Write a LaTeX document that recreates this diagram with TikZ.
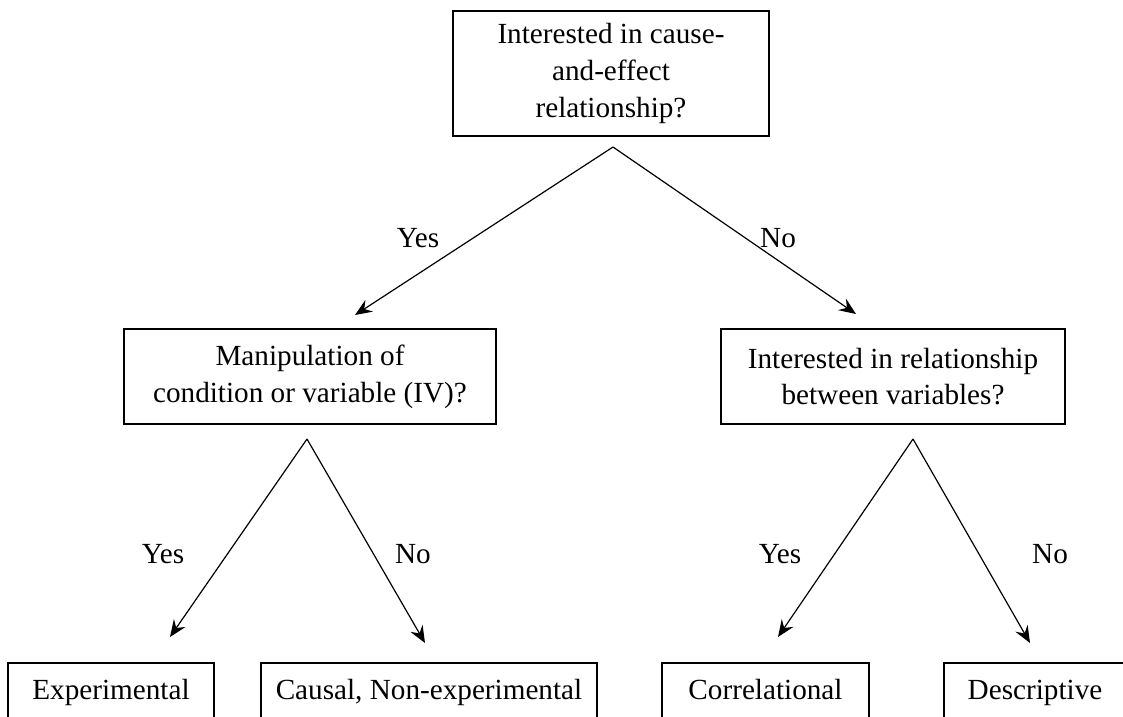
\documentclass[tikz,border=0pt]{standalone}
\usepackage{fontspec}
\setmainfont{Liberation Serif}
\usetikzlibrary{arrows.meta}
\begin{document}
\begin{tikzpicture}[x=1pt,y=-1pt,
  txt/.style={font=\fontsize{29.2}{36.7}\selectfont},
  box/.style={txt, draw, line width=1.2pt, align=center, inner sep=0pt},
  endbox/.style={box, minimum height=58, text height=20pt, text depth=6pt},
  lbl/.style={txt, inner sep=0pt, text height=20pt, text depth=6pt},
  arr/.style={line width=1.2pt, -{Stealth[length=17pt,width=14pt,inset=6pt]}}
]
\useasboundingbox (0,0) rectangle (1123,716);

% decision boxes
\node[box, minimum width=316, minimum height=125] (cause) at (611,73.5)
  {Interested in cause-\\and-effect\\relationship?};
\node[box, minimum width=372, minimum height=95] (manip) at (310,376.5)
  {Manipulation of\\condition or variable (IV)?};
\node[box, minimum width=344, minimum height=95] (rel) at (893,376.5)
  {Interested in relationship\\between variables?};

% outcome boxes (cut by the lower edge of the page)
\node[endbox, minimum width=206] (exp) at (111,692) {Experimental};
\node[endbox, minimum width=336] (caus) at (429,692) {Causal, Non-experimental};
\node[endbox, minimum width=207] (corr) at (765.5,692) {Correlational};
\node[endbox, minimum width=182] (desc) at (1035,692) {Descriptive};

% branch points and arrow ends
\coordinate (s1) at (613,147);
\coordinate (t1a) at (355,315);
\coordinate (t1b) at (856,314);
\coordinate (s2) at (307,439);
\coordinate (t2a) at (170,637);
\coordinate (t2b) at (425,643);
\coordinate (s3) at (913,439);
\coordinate (t3a) at (778,637);
\coordinate (t3b) at (1030,643);

\draw[arr] (s1) -- (t1a);
\draw[arr] (s1) -- (t1b);
\draw[arr] (s2) -- (t2a);
\draw[arr] (s2) -- (t2b);
\draw[arr] (s3) -- (t3a);
\draw[arr] (s3) -- (t3b);

% branch labels
\node[lbl] (y1) at (418,240) {Yes};
\node[lbl] (n1) at (778,240) {No};
\node[lbl] (y2) at (163,556) {Yes};
\node[lbl] (n2) at (413,556) {No};
\node[lbl] (y3) at (780,556) {Yes};
\node[lbl] (n3) at (1050,556) {No};
\end{tikzpicture}
\end{document}
